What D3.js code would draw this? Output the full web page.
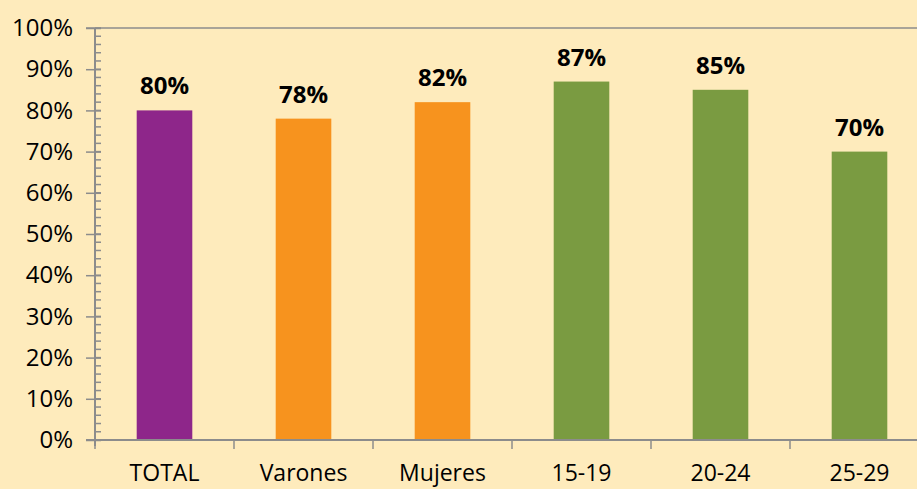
<!DOCTYPE html>
<html><head><meta charset="utf-8">
<script src="https://cdn.jsdelivr.net/npm/d3@7"></script>
<style>
body{margin:0;background:#FEEBBC;}
svg{display:block;font-family:"Open Sans","Noto Sans",sans-serif;}
</style></head>
<body>
<svg id="c" width="917" height="489"></svg>
<script>
const categories = ["TOTAL","Varones","Mujeres","15-19","20-24","25-29"];
const values = [80,78,82,87,85,70];
const colors = ["#8E268A","#F7931E","#F7931E","#7A9B41","#7A9B41","#7A9B41"];
const yTicks = [0,10,20,30,40,50,60,70,80,90,100];

const svg = d3.select("#c");
svg.append("rect").attr("width",917).attr("height",489).attr("fill","#FEEBBC");
const x0 = 95, x1 = 929, yTop = 28, yBot = 440;
const x = d3.scaleBand().domain(categories).range([x0,x1]).padding(0);
const y = d3.scaleLinear().domain([0,100]).range([yBot,yTop]);
const axisColor = "#8C8C8C";

// top border
svg.append("line").attr("x1",86).attr("x2",917).attr("y1",y(100)).attr("y2",y(100))
  .attr("stroke",axisColor).attr("stroke-width",1.5);

// bars
const bw = x.bandwidth()*0.4;
svg.selectAll("rect.bar").data(values).enter().append("rect")
  .attr("x",(d,i)=>x(categories[i])+x.bandwidth()/2-bw/2)
  .attr("y",d=>y(d)).attr("width",bw).attr("height",d=>y(0)-y(d))
  .attr("fill",(d,i)=>colors[i]);

// value labels
svg.selectAll("text.val").data(values).enter().append("text")
  .attr("x",(d,i)=>x(categories[i])+x.bandwidth()/2)
  .attr("y",d=>y(d)-16).attr("text-anchor","middle")
  .attr("font-weight","bold").attr("font-size",24).attr("fill","#000")
  .text(d=>d+"%");

// y axis: minor ticks
const minor = d3.range(0,101,2);
svg.append("g").selectAll("line").data(minor).enter().append("line")
  .attr("x1",x0).attr("x2",x0+6).attr("y1",d=>y(d)).attr("y2",d=>y(d))
  .attr("stroke",axisColor).attr("stroke-width",1.5);
// major ticks
const yAxis = d3.axisLeft(y).tickValues(yTicks).tickFormat(d=>d+"%").tickSize(9).tickPadding(13);
const gy = svg.append("g").attr("transform",`translate(${x0},0)`).call(yAxis);
gy.select(".domain").remove();
gy.selectAll(".tick line").attr("stroke",axisColor).attr("stroke-width",1.5).attr("x2",-9).attr("x1",6);
gy.selectAll(".tick text").attr("font-size",24).attr("fill","#000").attr("font-family","Open Sans");
svg.append("line").attr("x1",x0).attr("x2",x0).attr("y1",yTop).attr("y2",yBot+6)
  .attr("stroke",axisColor).attr("stroke-width",2);

// x axis
svg.append("line").attr("x1",86).attr("x2",917).attr("y1",yBot).attr("y2",yBot)
  .attr("stroke",axisColor).attr("stroke-width",2);
const bounds = categories.map(c=>x(c));
svg.append("g").selectAll("line").data(bounds).enter().append("line")
  .attr("x1",d=>d).attr("x2",d=>d).attr("y1",yBot).attr("y2",yBot+9)
  .attr("stroke",axisColor).attr("stroke-width",1.5);
svg.append("g").selectAll("text").data(categories).enter().append("text")
  .attr("x",d=>x(d)+x.bandwidth()/2).attr("y",481).attr("text-anchor","middle")
  .attr("font-size",23).attr("fill","#000").text(d=>d);
</script>
</body></html>
